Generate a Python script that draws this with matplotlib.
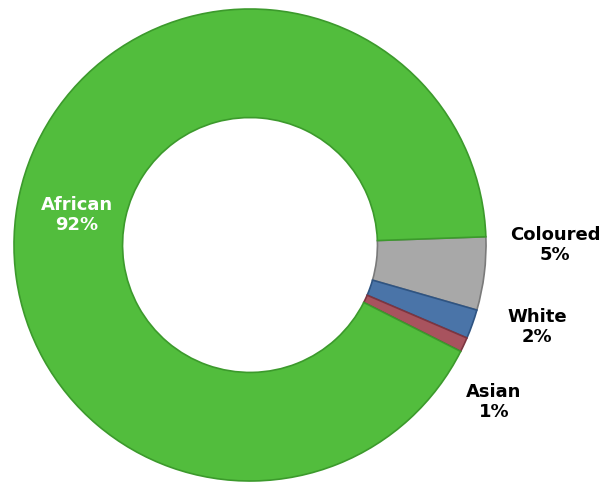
import matplotlib
matplotlib.use("Agg")
import matplotlib.pyplot as plt

categories = ["Coloured", "White", "Asian", "African"]
values = [5, 2, 1, 92]
colors = ["#a8a8a8", "#4a74a8", "#a8535e", "#52bd3d"]
edge_colors = ["#7a7a7a", "#2f5482", "#7d3540", "#3c9a2c"]
label_pos = [(1.292, 0.0), (1.216, -0.347), (1.034, -0.665), (-0.733, 0.127)]
label_colors = ["black", "black", "black", "white"]

W, H = 605, 486
fig = plt.figure(figsize=(W / 100, H / 100), dpi=100)
cx, cy, R = 250, 245, 236
ax = fig.add_axes([(cx - R) / W, (H - cy - R) / H, 2 * R / W, 2 * R / H])

wedges, _ = ax.pie(values, colors=colors, startangle=2, counterclock=False,
                   radius=1.0, wedgeprops=dict(width=0.46, linewidth=1.2),
                   frame=False)
for w, ec in zip(wedges, edge_colors):
    w.set_edgecolor(ec)

ax.set_xlim(-1, 1)
ax.set_ylim(-1, 1)
ax.set_aspect("equal")
ax.axis("off")

for cat, v, (x, y), c in zip(categories, values, label_pos, label_colors):
    ax.text(x, y, f"{cat}\n{v}%", ha="center", va="center", fontsize=13,
            fontweight="bold", color=c, family="DejaVu Sans",
            linespacing=1.15, clip_on=False)

fig.savefig("out.png", dpi=100)
